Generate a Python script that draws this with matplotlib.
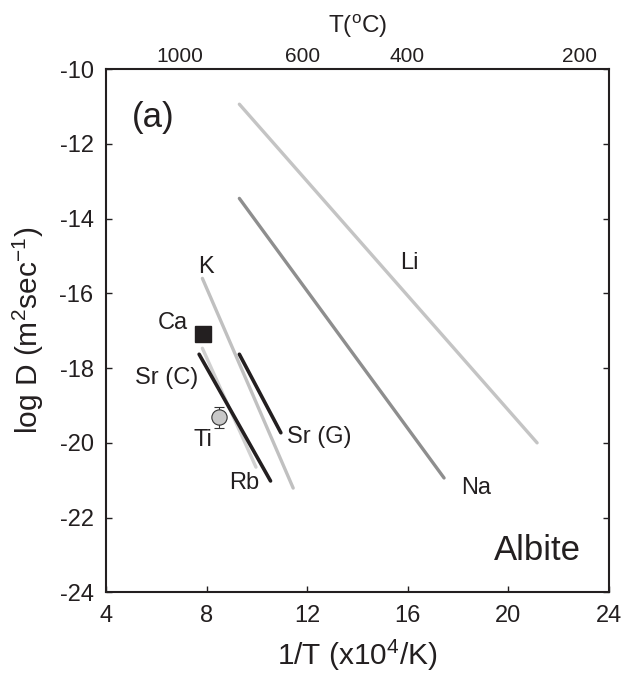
import matplotlib
matplotlib.use('Agg')
from matplotlib import pyplot as plt

plt.rcParams['font.family'] = ['Liberation Sans', 'DejaVu Sans']
plt.rcParams['mathtext.fontset'] = 'custom'
plt.rcParams['mathtext.rm'] = 'Liberation Sans'
plt.rcParams['mathtext.it'] = 'Liberation Sans'
plt.rcParams['axes.unicode_minus'] = False

# Arrhenius lines: (1/T start, logD start, 1/T end, logD end)
li = [9.30, -10.94, 21.14, -20.0]
na = [9.30, -13.46, 17.44, -20.94]
k = [7.83, -15.60, 11.44, -21.21]
rb = [7.83, -17.47, 9.96, -20.65]
sr_c = [7.70, -17.63, 10.54, -21.02]
sr_g = [9.30, -17.63, 10.95, -19.73]

# single points
ca = (7.84, -17.10)
ti = (8.49, -19.32)
ti_err = 0.28

# top axis (temperature in C)
top_pos = [6.94, 11.83, 15.95, 22.83]
top_lab = ['1000', '600', '400', '200']

# labels (text, x, y, ha)
labels = [
    ('Li', 16.08, -15.18, 'center'),
    ('Na', 18.73, -21.22, 'center'),
    ('K', 7.98, -15.29, 'center'),
    ('Ca', 6.67, -16.80, 'center'),
    ('Sr (C)', 7.66, -18.27, 'right'),
    ('Ti', 7.87, -19.93, 'center'),
    ('Sr (G)', 11.19, -19.84, 'left'),
    ('Rb', 9.49, -21.07, 'center'),
]

ink = '#231f20'

fig = plt.figure(figsize=(6.24, 6.84), dpi=100)
ax = fig.add_axes([0.170, 0.134, 0.806, 0.765])

def seg(s, color, lw):
    ax.plot([s[0], s[2]], [s[1], s[3]], color=color, lw=lw, solid_capstyle='round')

seg(li, '#c4c4c4', 2.4)
seg(na, '#8e8e8e', 2.4)
seg(k, '#c0c0c0', 2.4)
seg(rb, '#d0d0d0', 2.4)
seg(sr_c, ink, 2.6)
seg(sr_g, ink, 2.6)

ax.plot(*ca, marker='s', ms=11.5, color=ink, mec=ink)
ax.errorbar(ti[0], ti[1], yerr=ti_err, fmt='o', ms=11, mfc='#c8c8c8', mec='#333333',
            mew=0.8, ecolor='#333333', elinewidth=0.8, capsize=3.5, capthick=0.8)

for txt, x, y, ha in labels:
    ax.text(x, y, txt, fontsize=17, ha=ha, va='center', color=ink)

ax.text(5.87, -11.30, '(a)', fontsize=25, ha='center', va='center', color=ink)
ax.text(21.16, -22.88, 'Albite', fontsize=25, ha='center', va='center', color=ink)

ax.set_xlim(4, 24)
ax.set_ylim(-24, -10)
ax.set_xticks([4, 8, 12, 16, 20, 24])
ax.set_yticks(range(-24, -9, 2))
ax.tick_params(direction='in', length=4, width=1, labelsize=17, pad=9,
               colors=ink, right=True, top=False)
for sp in ax.spines.values():
    sp.set_linewidth(1.5)
    sp.set_color(ink)

ax.set_xlabel(r'1/T (x10$^{4}$/K)', fontsize=21.5, color=ink, labelpad=8)
ax.set_ylabel(r'log D (m$^{2}$sec$^{-1}$)', fontsize=21.5, color=ink, labelpad=10)

ax2 = ax.twiny()
ax2.set_xlim(4, 24)
ax2.set_xticks(top_pos)
ax2.set_xticklabels(top_lab)
ax2.tick_params(length=0, labelsize=15, pad=2, colors=ink)
ax2.set_xlabel(r'T($^{o}$C)', fontsize=17.5, color=ink, labelpad=10)
for sp in ax2.spines.values():
    sp.set_visible(False)

fig.savefig('out.png', dpi=100)
